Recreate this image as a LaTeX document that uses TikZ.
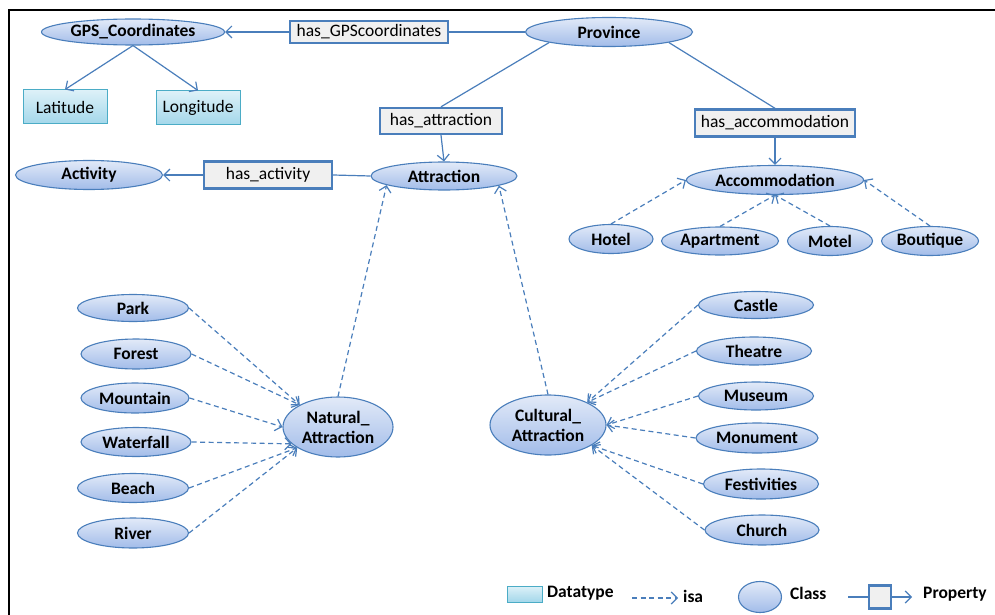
\documentclass[tikz,border=0pt]{standalone}
\usepackage{fontspec}
\setmainfont{Carlito}
\usetikzlibrary{shapes.geometric,arrows.meta}
\definecolor{bordc}{HTML}{4A7EBB}
\definecolor{linec}{HTML}{4A7EBB}
\definecolor{clsTop}{HTML}{E2EAF8}
\definecolor{clsBot}{HTML}{A2BCE9}
\definecolor{propfill}{HTML}{F0F0F0}
\definecolor{dtTop}{HTML}{DDF1F8}
\definecolor{dtBot}{HTML}{A3D7EA}
\definecolor{dtc}{HTML}{4BACC6}
\tikzset{
  cls/.style={ellipse, draw=bordc, line width=1.1pt, top color=clsTop, bottom color=clsBot,
    inner sep=0pt, align=center, font=\bfseries\fontsize{17.5}{20}\selectfont},
  prop/.style={rectangle, draw=bordc, line width=2.4pt, fill=propfill, inner sep=0pt,
    font=\fontsize{17.5}{20}\selectfont},
  dtype/.style={rectangle, draw=dtc, line width=1pt, top color=dtTop, bottom color=dtBot,
    inner sep=0pt, font=\fontsize{17.5}{20}\selectfont},
  rel/.style={draw=linec, line width=1.2pt},
  relarr/.style={rel, -{Straight Barb[length=6pt,width=12pt,line width=1.2pt]}},
  isa/.style={relarr, dash pattern=on 5pt off 3.5pt},
  legtxt/.style={anchor=west, inner sep=0pt, font=\bfseries\fontsize{17.5}{20}\selectfont},
}
\begin{document}
\begin{tikzpicture}[x=1pt,y=-1pt]
\useasboundingbox (0,0) rectangle (995,615);
% frame
\draw[line width=2.4pt] (9,615) -- (9,10) -- (995,10);

% top row
\node[cls, minimum width=183pt, minimum height=26pt] (gps) at (133,32) {GPS\_Coordinates};
\node[prop, minimum width=158pt, minimum height=22pt] (hasgps) at (369,32) {has\_GPScoordinates};
\node[cls, minimum width=167pt, minimum height=29pt] (prov) at (609,32) {Province};
\node[dtype, minimum width=84pt, minimum height=34pt] (lat) at (65,107) {Latitude};
\node[dtype, minimum width=84pt, minimum height=34pt] (lon) at (198,108) {Longitude};

\node[prop, minimum width=122pt, minimum height=26pt] (hasattr) at (441,121) {has\_attraction};
\node[prop, minimum width=160pt, minimum height=27pt] (hasacc) at (775,123) {has\_accommodation};

\node[cls, minimum width=146pt, minimum height=28pt] (attr) at (444,176) {Attraction};
\node[prop, minimum width=128pt, minimum height=27pt] (hasact) at (268,175) {has\_activity};
\node[cls, minimum width=147pt, minimum height=29pt] (act) at (89,175) {Activity};

\node[cls, minimum width=177pt, minimum height=29pt] (acc) at (775,180) {Accommodation};
\node[cls, minimum width=84pt, minimum height=29pt] (hotel) at (611,239) {Hotel};
\node[cls, minimum width=117pt, minimum height=28pt] (apt) at (720,241) {Apartment};
\node[cls, minimum width=85pt, minimum height=29pt] (motel) at (830,241) {Motel};
\node[cls, minimum width=97pt, minimum height=29pt] (bout) at (930,241) {Boutique};

% natural
\node[cls, minimum width=110pt, minimum height=60pt] (nat) at (338,427) {Natural\_\\Attraction};
\node[cls, minimum width=111pt, minimum height=27pt] (park) at (133,308) {Park};
\node[cls, minimum width=110pt, minimum height=30pt] (forest) at (136,354) {Forest};
\node[cls, minimum width=108pt, minimum height=30pt] (mount) at (135,398) {Mountain};
\node[cls, minimum width=110pt, minimum height=29pt] (water) at (136,442) {Waterfall};
\node[cls, minimum width=111pt, minimum height=29pt] (beach) at (133,488) {Beach};
\node[cls, minimum width=111pt, minimum height=30pt] (river) at (133,533) {River};

% cultural
\node[cls, minimum width=116pt, minimum height=60pt] (cult) at (548,425) {Cultural\_\\Attraction};
\node[cls, minimum width=115pt, minimum height=27pt] (castle) at (756,305) {Castle};
\node[cls, minimum width=115pt, minimum height=28pt] (theatre) at (754,351) {Theatre};
\node[cls, minimum width=115pt, minimum height=28pt] (museum) at (756,396) {Museum};
\node[cls, minimum width=122pt, minimum height=30pt] (monu) at (757,438) {Monument};
\node[cls, minimum width=115pt, minimum height=30pt] (fest) at (761,484) {Festivities};
\node[cls, minimum width=114pt, minimum height=30pt] (church) at (762,530) {Church};

% connectors
\draw[rel] (prov.west) -- (hasgps.east);
\draw[relarr] (hasgps.west) -- (gps.east);
\draw[relarr] (gps.south) -- (lat.north);
\draw[relarr] (gps.south) -- (lon.north);
\draw[rel] (prov.190) -- (hasattr.north);
\draw[relarr] (hasattr.south) -- (attr.north);
\draw[rel] (prov.-10) -- (hasacc.north);
\draw[relarr] (hasacc.south) -- (acc.north);
\draw[rel] (attr.west) -- (hasact.east);
\draw[relarr] (hasact.west) -- (act.east);

\draw[isa] (hotel.north) -- (acc.west);
\draw[isa] (apt.north) -- (acc.south);
\draw[isa] (motel.north) -- (acc.south);
\draw[isa] (bout.north) -- (acc.east);

\draw[isa] (nat.north) -- (attr.189);
\draw[isa] (cult.north) -- (attr.-10);

\draw[isa] (park.east) -- (nat.150);
\draw[isa] (forest.east) -- (nat.150);
\draw[isa] (mount.east) -- (nat.180);
\draw[isa] (water.east) -- (nat.200);
\draw[isa] (beach.east) -- (nat.207);
\draw[isa] (river.east) -- (nat.207);

\draw[isa] (castle.west) -- (cult.30);
\draw[isa] (theatre.west) -- (cult.30);
\draw[isa] (museum.west) -- (cult.0);
\draw[isa] (monu.west) -- (cult.0);
\draw[isa] (fest.west) -- (cult.-25);
\draw[isa] (church.west) -- (cult.-25);

% legend
\node[dtype, minimum width=35pt, minimum height=16pt] (legdt) at (525,594) {};
\node[legtxt] (legdttxt) at (547,593) {Datatype};
\coordinate (isaA) at (632,598);
\coordinate (isaB) at (678,598);
\draw[isa] (isaA) -- (isaB);
\node[legtxt] (legisa) at (683,596) {isa};
\node[cls, minimum width=43pt, minimum height=31pt] (legcls) at (760,597) {};
\node[legtxt] (legclstxt) at (790,593) {Class};
\coordinate (propA) at (848,597);
\node[prop, minimum width=22pt, minimum height=23pt] (legprop) at (880,597) {};
\coordinate (propB) at (912,597);
\draw[rel] (propA) -- (legprop.west);
\draw[relarr] (legprop.east) -- (propB);
\node[legtxt] (legproptxt) at (923,594) {Property};
\end{tikzpicture}
\end{document}
